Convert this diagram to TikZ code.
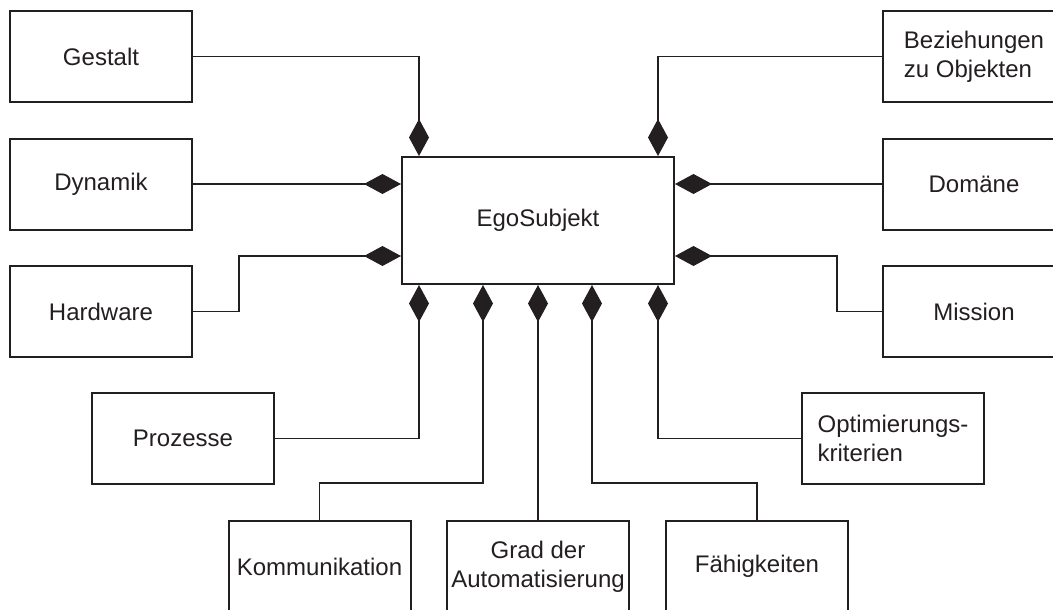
\documentclass[tikz,border=0pt]{standalone}
\usepackage{fontspec}
\setmainfont{Liberation Sans}
\usetikzlibrary{arrows.meta,calc}
\definecolor{ink}{HTML}{231F20}

\begin{document}
\begin{tikzpicture}[x=1pt,y=-1pt,
  box/.style={draw=ink,line width=2pt,minimum width=182pt,minimum height=91pt,
    inner sep=0pt,text=ink,font=\fontsize{24}{29}\selectfont},
  egobox/.style={box,minimum width=272pt,minimum height=127pt},
  conn/.style={draw=ink,line width=1.8pt,
    -{Diamond[length=37pt,width=20pt,fill=ink]}}]
\useasboundingbox (0,0) rectangle (1053,610);
\clip (0,0) rectangle (1053,610);

% central class
\node[egobox] (ego) at (538,220.5) {EgoSubjekt};

% parts
\node[box] (gestalt)  at (101,56.5)  {Gestalt};
\node[box] (dynamik)  at (101,184)   {Dynamik};
\node[box] (hardware) at (101,311.5) {Hardware};
\node[box,align=left] (bez) at (974,56.5) {Beziehungen\\zu Objekten};
\node[box] (domaene)  at (974,184)   {Domäne};
\node[box] (mission)  at (974,311.5) {Mission};
\node[box] (prozesse) at (183,438.5) {Prozesse};
\node[box,align=left] (opt) at (893,438.5) {Optimierungs-\\kriterien};
\node[box] (komm)     at (319.5,566.5) {Kommunikation};
\node[box,align=center] (grad) at (538,566.5) {Grad der\\Automatisierung};
\node[box] (faeh)     at (757,566.5) {Fähigkeiten};

% attachment points on the central class
\coordinate (eT1) at ($(ego.north west)+(18,0)$);
\coordinate (eT2) at ($(ego.north east)+(-17,0)$);
\coordinate (eL1) at (ego.west |- dynamik.east);
\coordinate (eL2) at ($(ego.north west)+(0,100)$);
\coordinate (eR1) at (ego.east |- domaene.west);
\coordinate (eR2) at ($(ego.north east)+(0,100)$);
\coordinate (eB1) at ($(ego.south west)+(18,0)$);
\coordinate (eB2) at ($(ego.south west)+(82,0)$);
\coordinate (eB3) at (ego.south);
\coordinate (eB4) at ($(ego.south west)+(191,0)$);
\coordinate (eB5) at ($(ego.south east)+(-17,0)$);

% composition links
\draw[conn] (gestalt.east) -| (eT1);
\draw[conn] (dynamik.east) -- (eL1);
\draw[conn] (hardware.east) -- ++(46,0) |- (eL2);
\draw[conn] (bez.west) -| (eT2);
\draw[conn] (domaene.west) -- (eR1);
\draw[conn] (mission.west) -- ++(-45,0) |- (eR2);
\draw[conn] (prozesse.east) -| (eB1);
\draw[conn] (komm.north) -- ++(0,-37) -| (eB2);
\draw[conn] (grad.north) -- (eB3);
\draw[conn] (faeh.north) -- ++(0,-37) -| (eB4);
\draw[conn] (opt.west) -| (eB5);
\end{tikzpicture}
\end{document}
